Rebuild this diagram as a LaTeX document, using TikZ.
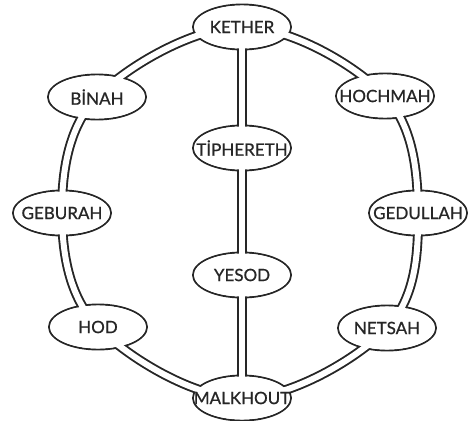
\documentclass[tikz,border=0pt]{standalone}
\usepackage{fontspec}
\setmainfont{Lato}[FakeBold=0.8]
\definecolor{ink}{HTML}{262626}
\usetikzlibrary{shapes.geometric}

\begin{document}
\begin{tikzpicture}[
    x=1pt, y=-1pt,
    rim/.style={ellipse, draw=ink, line width=1.9pt, inner sep=0pt,
                minimum width=98pt, minimum height=45pt},
    face/.style={ellipse, fill=white, inner xsep=-30pt, inner ysep=0pt,
                 minimum width=96pt, minimum height=43pt,
                 font=\fontsize{17}{17}\selectfont, text=ink},
    pipe/.style={draw=ink, line width=1.9pt, double=white, double distance=6pt}
  ]
    \useasboundingbox (0,0) rectangle (468,420);
    % outlines of the ten sefirot
    \foreach \n/\p in {kether/{242,27}, binah/{97,97}, hochmah/{385,96},
                       geburah/{62,213}, gedullah/{418,213}, hod/{98,327},
                       netsah/{387,328}, malkhout/{242,398},
                       tiphereth/{242,148}, yesod/{242,275}}
      \node[rim] (\n) at (\p) {};
    % paths between them
    \draw[pipe] plot[smooth cycle, tension=0.6] coordinates {(kether.center) (hochmah.center)
      (gedullah.center) (netsah.center) (malkhout.center) (hod.center) (geburah.center) (binah.center)};
    \draw[pipe] (kether.center) -- (tiphereth.center) -- (yesod.center) -- (malkhout.center);
    % names, on top of the pipe ends
    \foreach \n/\t in {kether/KETHER, binah/BİNAH, hochmah/HOCHMAH, geburah/GEBURAH,
                       gedullah/GEDULLAH, hod/HOD, netsah/NETSAH, malkhout/MALKHOUT,
                       tiphereth/TİPHERETH, yesod/YESOD}
      \node[face] (\n-name) at (\n) {\t};
  \end{tikzpicture}
\end{document}
